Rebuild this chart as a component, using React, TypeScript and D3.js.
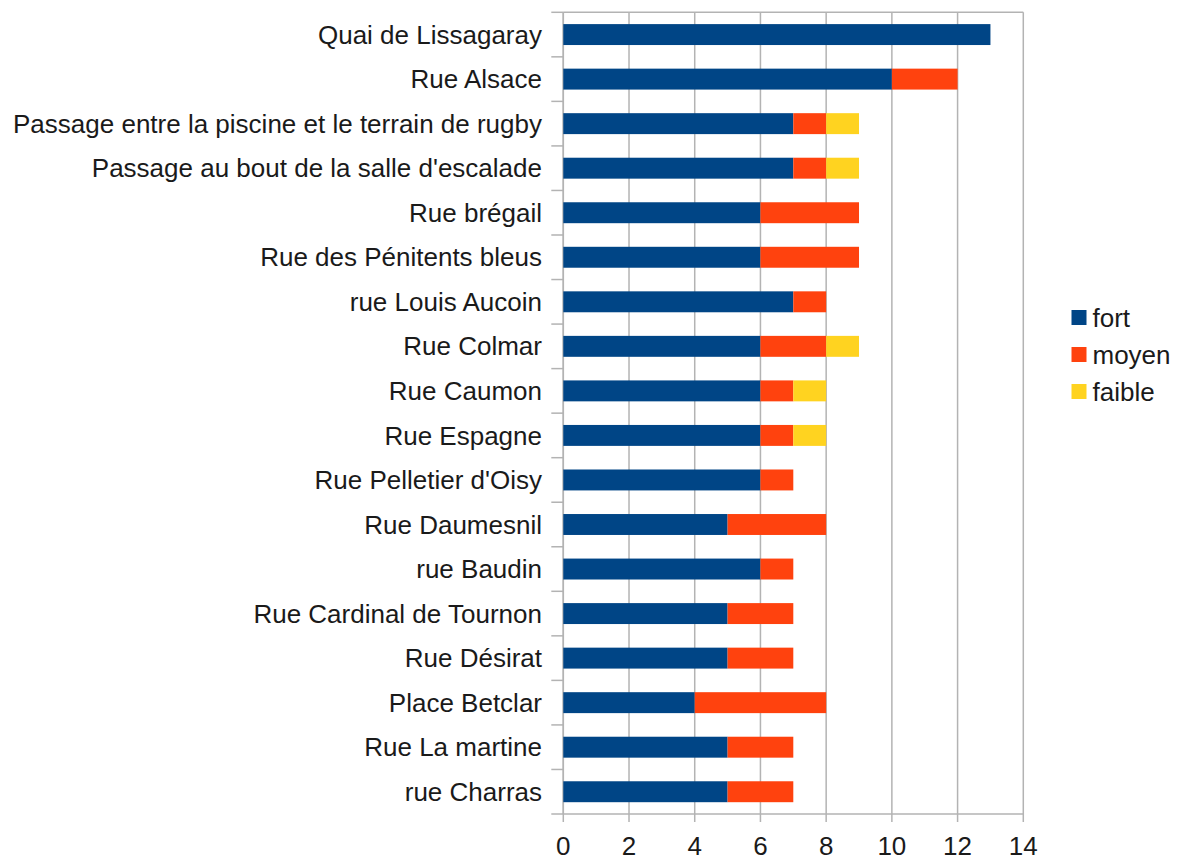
import React from "react";
import * as d3 from "d3";

const categories = [
  "Quai de Lissagaray",
  "Rue Alsace",
  "Passage entre la piscine et le terrain de rugby",
  "Passage au bout de la salle d'escalade",
  "Rue brégail",
  "Rue des Pénitents bleus",
  "rue Louis Aucoin",
  "Rue Colmar",
  "Rue Caumon",
  "Rue Espagne",
  "Rue Pelletier d'Oisy",
  "Rue Daumesnil",
  "rue Baudin",
  "Rue Cardinal de Tournon",
  "Rue Désirat",
  "Place Betclar",
  "Rue La martine",
  "rue Charras",
];
const fort = [13, 10, 7, 7, 6, 6, 7, 6, 6, 6, 6, 5, 6, 5, 5, 4, 5, 5];
const moyen = [0, 2, 1, 1, 3, 3, 1, 2, 1, 1, 1, 3, 1, 2, 2, 4, 2, 2];
const faible = [0, 0, 1, 1, 0, 0, 0, 1, 1, 1, 0, 0, 0, 0, 0, 0, 0, 0];
const seriesNames = ["fort", "moyen", "faible"];
const seriesColors = ["#004586", "#ff420e", "#ffd320"];
const xTicks = [0, 2, 4, 6, 8, 10, 12, 14];

export default function App() {
  const W = 1179, H = 857;
  const left = 563.3, right = 1023.3, top = 12.3, bottom = 814;
  const x = d3.scaleLinear().domain([0, 14]).range([left, right]);
  const y = d3.scaleBand().domain(categories).range([top, bottom]).paddingInner(0.53).paddingOuter(0.265);
  const rows = categories.map((c, i) => ({ c, fort: fort[i], moyen: moyen[i], faible: faible[i] }));
  const stack = d3.stack<any>().keys(seriesNames)(rows);
  const step = (bottom - top) / categories.length;
  const font = "'Liberation Sans', Arial, sans-serif";
  const fs = 26;
  return (
    <svg width={W} height={H} style={{ position: "absolute", left: 0, top: 0, background: "#fff" }}>
      {xTicks.map((t) => (
        <line key={"g" + t} x1={x(t)} x2={x(t)} y1={top} y2={bottom + 8} stroke="#b3b3b3" strokeWidth={1.5} />
      ))}
      {d3.range(categories.length + 1).map((i) => (
        <line key={"yt" + i} x1={left - 12} x2={left} y1={top + i * step} y2={top + i * step} stroke="#b3b3b3" strokeWidth={1.5} />
      ))}
      <line x1={left} x2={right} y1={top} y2={top} stroke="#b3b3b3" strokeWidth={1.5} />
      <line x1={left} x2={right} y1={bottom} y2={bottom} stroke="#b3b3b3" strokeWidth={1.5} />
      <line x1={left} x2={left} y1={top} y2={bottom} stroke="#b3b3b3" strokeWidth={1.5} />
      {stack.map((s, si) =>
        s.map((d, i) =>
          d[1] - d[0] > 0 ? (
            <rect key={si + "-" + i} x={x(d[0])} width={x(d[1]) - x(d[0])} y={y(categories[i])!} height={y.bandwidth()} fill={seriesColors[si]} />
          ) : null
        )
      )}
      {categories.map((c) => (
        <text key={c} x={542} y={y(c)! + y.bandwidth() / 2} dy="0.35em" textAnchor="end" fontFamily={font} fontSize={fs} fill="#1a1a1a">
          {c}
        </text>
      ))}
      {xTicks.map((t) => (
        <text key={"xt" + t} x={x(t)} y={845.5} dy="0.35em" textAnchor="middle" fontFamily={font} fontSize={fs} fill="#1a1a1a">
          {t}
        </text>
      ))}
      {seriesNames.map((n, i) => (
        <g key={n} transform={`translate(1071.5,${317.5 + i * 37})`}>
          <rect x={0} y={-7.5} width={15} height={15} fill={seriesColors[i]} />
          <text x={21} y={0} dy="0.35em" fontFamily={font} fontSize={fs} fill="#1a1a1a">
            {n}
          </text>
        </g>
      ))}
    </svg>
  );
}
